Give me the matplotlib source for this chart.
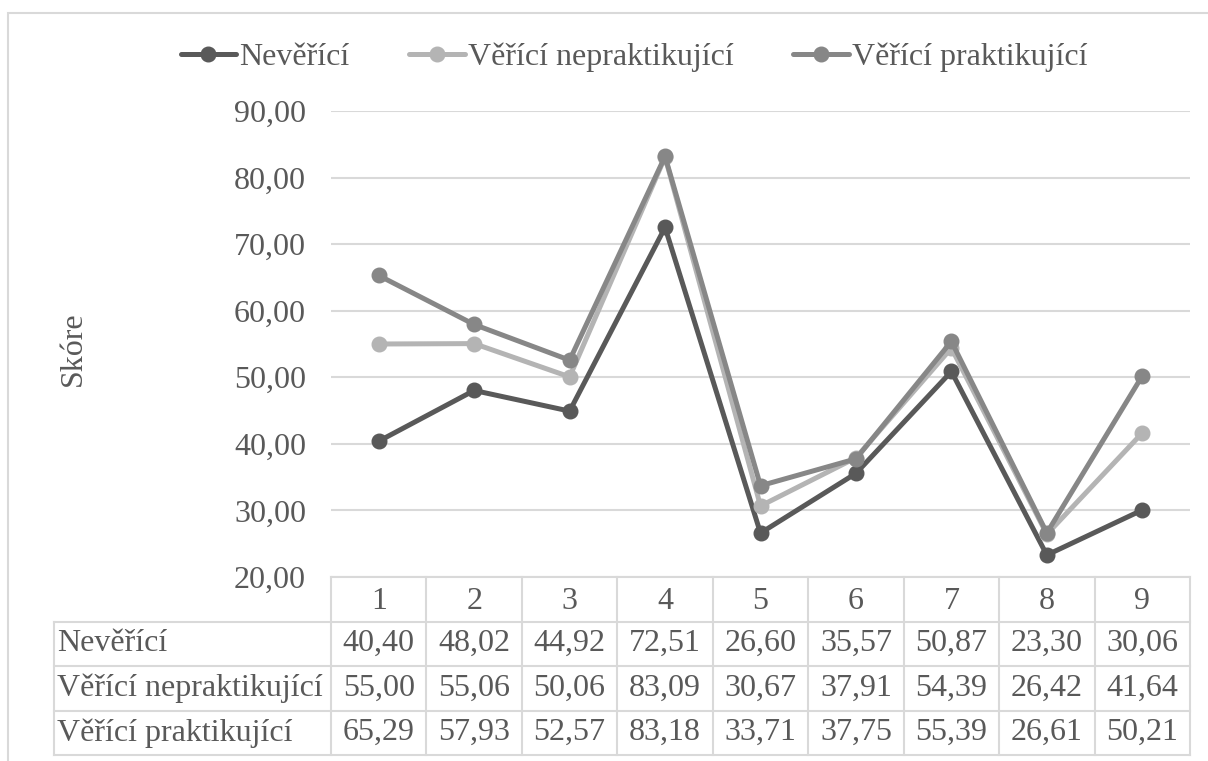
import matplotlib.pyplot as plt
from matplotlib.patches import Rectangle

categories = [1, 2, 3, 4, 5, 6, 7, 8, 9]
series_names = ["Nevěřící", "Věřící nepraktikující", "Věřící praktikující"]
neverici = [40.40, 48.02, 44.92, 72.51, 26.60, 35.57, 50.87, 23.30, 30.06]
nepraktikujici = [55.00, 55.06, 50.06, 83.09, 30.67, 37.91, 54.39, 26.42, 41.64]
praktikujici = [65.29, 57.93, 52.57, 83.18, 33.71, 37.75, 55.39, 26.61, 50.21]
colors = ["#595959", "#b4b4b4", "#878787"]
yticks = [20, 30, 40, 50, 60, 70, 80, 90]

plt.rcParams['font.family'] = ['Liberation Serif', 'DejaVu Serif']
txt = "#595959"
grid = "#d9d9d9"
fs = 23

W, H = 1208, 761
fig = plt.figure(figsize=(W / 100, H / 100), dpi=100)

# outer chart border
fig.patches.append(Rectangle((8 / W, -0.01), 1.1, (761 - 13) / H + 0.01,
                             transform=fig.transFigure, fill=False,
                             edgecolor=grid, lw=1.5))

def px(x0, y0, x1, y1):
    return [x0 / W, 1 - y1 / H, (x1 - x0) / W, (y1 - y0) / H]

ax = fig.add_axes(px(331, 111, 1190, 577))
ax.set_xlim(0.5, 9.5)
ax.set_ylim(20, 90)
for s in ax.spines.values():
    s.set_visible(False)
ax.set_yticks(yticks)
ax.set_yticklabels([f"{v:.2f}".replace(".", ",") for v in yticks],
                   fontsize=fs, color=txt)
ax.tick_params(axis='y', length=0, pad=18)
ax.set_xticks([])
ax.yaxis.grid(True, color=grid, lw=1.5)
ax.set_axisbelow(True)
ax.set_ylabel("Skóre", fontsize=fs, color=txt, labelpad=0)
ax.yaxis.set_label_coords(-(331 - 88) / (1190 - 331), 0.49)

handles = []
for vals, name, c in zip([neverici, nepraktikujici, praktikujici], series_names, colors):
    h, = ax.plot(categories, vals, color=c, lw=3.6, marker='o', ms=10.5,
                 label=name, clip_on=False, solid_capstyle='round')
    handles.append(h)

fig.legend(handles=handles, loc='center', ncol=3, frameon=False,
           bbox_to_anchor=(634 / W, 1 - 57 / H), fontsize=fs,
           labelcolor=txt, handlelength=1.75, handletextpad=0.1,
           columnspacing=1.85)

# data table
tax = fig.add_axes(px(54, 577, 1190, 755))
label_w = (331 - 54) / ((1190 - 331) / 9)
tax.set_xlim(0.5 - label_w, 9.5)
tax.set_ylim(4, 0)
tax.axis('off')
lk = dict(color=grid, lw=1.5, clip_on=False)
# horizontal lines
tax.plot([0.5, 9.5], [0, 0], **lk)
for r in [1, 2, 3, 4]:
    tax.plot([0.5 - label_w, 9.5], [r, r], **lk)
# vertical lines
tax.plot([0.5 - label_w] * 2, [1, 4], **lk)
for i in range(10):
    tax.plot([0.5 + i] * 2, [0, 4], **lk)
for i, c in enumerate(categories):
    tax.text(c, 0.55, str(c), ha='center', va='center', fontsize=fs, color=txt)
for r, (name, vals) in enumerate(zip(series_names,
                                     [neverici, nepraktikujici, praktikujici])):
    tax.text(0.5 - label_w + 0.03, r + 1.5, name, ha='left', va='center',
             fontsize=fs, color=txt)
    for c, v in zip(categories, vals):
        tax.text(c, r + 1.5, f"{v:.2f}".replace(".", ","), ha='center',
                 va='center', fontsize=fs, color=txt)

fig.savefig("out.png", dpi=100)
